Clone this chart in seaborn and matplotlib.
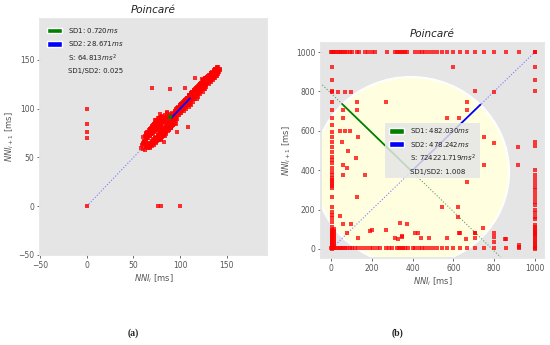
import matplotlib
matplotlib.use("Agg")
import numpy as np
import pandas as pd
import matplotlib.pyplot as plt
import seaborn as sns
from matplotlib.patches import Ellipse, Patch

nni_a = [
    58, 60, 59, 63, 61, 65, 62, 66, 64, 68, 65, 70, 67, 72, 69, 74, 70, 76, 72, 78,
    74, 80, 75, 79, 73, 77, 71, 75, 69, 74, 68, 72, 66, 70, 64, 68, 62, 66, 60, 64,
    61, 67, 63, 69, 65, 71, 67, 73, 70, 76, 73, 79, 76, 82, 78, 85, 80, 86, 82, 88,
    84, 90, 85, 91, 86, 92, 88, 94, 89, 93, 87, 91, 84, 89, 81, 87, 79, 84, 77, 82,
    75, 81, 73, 79, 71, 77, 70, 75, 68, 74, 66, 72, 65, 70, 63, 68, 61, 66, 60, 65,
    62, 67, 64, 70, 66, 73, 69, 76, 72, 79, 75, 82, 78, 84, 80, 87, 83, 89, 85, 90,
    87, 92, 89, 95, 91, 96, 92, 88, 85, 81, 78, 74, 71, 68, 72, 76, 80, 83, 86, 82,
    79, 76, 73, 70, 74, 78, 81, 84, 88, 85, 82, 80, 77, 75, 78, 80, 83, 86, 89, 92,
    90, 87, 84, 86, 88, 91, 93, 95, 97, 76, 84, 72, 80, 68, 77, 83, 74, 86, 78, 70,
    81, 73, 88, 79, 71, 82, 75, 67, 78, 85, 76, 90, 80, 72, 84, 94, 85, 79, 92, 83,
    66, 76, 68, 79, 70, 82, 72, 84, 75, 87, 77, 90, 80, 92, 83, 73, 85, 74, 88, 78,
    69, 80, 71, 83, 74, 65, 76, 68, 79, 90, 81, 93, 84, 75, 86, 96, 88, 79, 91, 82,
    72, 63, 74, 85, 77, 68, 60, 71, 64, 75, 86, 97, 89, 80, 70, 62, 72, 81, 71, 78,
    95, 98, 96, 100, 98, 102, 100, 104, 101, 105, 103, 107, 104, 108, 106, 110, 107, 111, 109, 113,
    110, 114, 112, 116, 113, 117, 115, 119, 116, 120, 118, 122, 119, 123, 121, 125, 122, 126, 124, 128,
    125, 129, 127, 131, 128, 132, 130, 134, 131, 135, 133, 137, 134, 138, 136, 140, 137, 141, 139, 143,
    140, 142, 138, 141, 136, 139, 134, 137, 132, 135, 129, 133, 127, 131, 125, 128, 122, 126, 120, 124,
    117, 121, 115, 119, 112, 116, 110, 114, 107, 111, 105, 109, 102, 106, 100, 104, 98, 101, 96, 99,
    94, 97, 99, 97, 101, 103, 101, 105, 107, 105, 109, 111, 109, 113, 115, 113, 117, 119, 117, 121,
    123, 121, 125, 127, 125, 129, 131, 129, 133, 135, 133, 137, 139, 137, 141, 143, 141, 138, 140, 136,
    138, 134, 136, 132, 134, 130, 132, 128, 130, 126, 128, 124, 126, 122, 124, 120, 122, 118, 120, 116,
    118, 114, 116, 112, 114, 110, 112, 108, 110, 106, 108, 104, 106, 102, 104, 100, 102, 98, 100, 96,
    98, 94, 90, 86, 82, 78, 74, 70, 66, 62, 58,
]
out_a_x = [0, 0, 0, 0, 0, 76, 79, 100, 70, 89, 105, 116, 123, 108, 96, 112, 118, 127]
out_a_y = [0, 100, 84, 76, 70, 0, 0, 0, 121, 120, 121, 131, 130, 81, 84, 104, 110, 120]

mean_a, sd1_a, sd2_a = 90.5, 0.720, 28.671
s_a, ratio_a = 64.813, 0.025

# --- (b) points of the right plot ---
top_x = [0, 8, 16, 25, 33, 41, 50, 60, 70, 80, 90, 103, 127, 137, 167, 183, 199, 216, 273,
         314, 324, 333, 343, 353, 364, 371, 412, 429, 444, 462, 480, 500, 518, 545, 571, 600,
         632, 667, 706, 750, 800, 857, 923, 1000]
right_y = [1000, 923, 857, 800, 545, 522, 400, 375, 353, 333, 316, 300, 279, 261, 240, 222,
           200, 182, 160, 150, 120, 110, 100, 92, 86, 80, 75, 70, 60, 50, 40, 30, 20, 10, 0]
left_y = [1000, 923, 857, 800, 746, 706, 665, 629, 594, 569, 543, 518, 492, 467, 452, 437,
          411, 391, 376, 360, 350, 340, 330, 320, 310, 264, 213, 188, 173, 157, 137, 112, 96,
          90, 84, 78, 72, 66, 60, 54, 48, 42, 36, 30, 24, 18, 12, 6, 0]
left2_y = [100, 90, 80, 70, 60, 50, 40, 30, 20, 10]
bottom_x = [0, 8, 16, 25, 33, 41, 50, 60, 70, 80, 90, 103, 115, 130, 150, 170, 190, 207, 225,
            240, 270, 285, 300, 322, 333, 343, 353, 364, 375, 400, 414, 429, 444, 462, 479,
            500, 520, 545, 571, 600, 632, 667, 706, 750, 800, 857, 923, 1000]
inner_x = [5, 34, 69, 98, 126, 126, 270, 60, 60, 44, 69, 93, 134, 52, 82, 123, 60, 80, 57,
           167, 126, 570, 629, 665, 665, 600, 706, 799, 750, 799, 918, 750, 918, 665, 543,
           624, 624, 338, 412, 425, 348, 440, 478, 570, 632, 706, 706, 747, 200, 270, 313,
           44, 60, 97, 80, 134, 191, 374, 346, 330, 629, 662, 706, 853, 800, 800, 800, 857,
           923, 923]
inner_y = [797, 797, 797, 797, 748, 706, 748, 706, 664, 600, 600, 600, 570, 545, 497, 460,
           426, 410, 376, 376, 265, 663, 663, 748, 706, 925, 800, 797, 570, 540, 520, 426,
           426, 342, 215, 215, 164, 130, 83, 83, 62, 58, 58, 58, 80, 80, 58, 105, 96, 96, 58,
           168, 127, 127, 80, 57, 93, 127, 66, 49, 83, 49, 83, 49, 81, 61, 36, 51, 20, 12]

mean_b, sd1_b, sd2_b = 395.0, 482.030, 478.242
s_b, ratio_b = 724221.719, 1.008

# --- style ---
sns.set_theme(style="dark", rc={
    "axes.facecolor": "#E5E5E5",
    "figure.facecolor": "white",
    "axes.edgecolor": "#E5E5E5",
    "axes.grid": False,
    "xtick.bottom": True, "ytick.left": True,
    "xtick.major.size": 2.5, "ytick.major.size": 2.5,
    "xtick.major.width": 0.6, "ytick.major.width": 0.6,
    "xtick.color": "#555555", "ytick.color": "#555555",
    "axes.labelcolor": "#555555", "text.color": "#222222",
})
plt.rcParams['font.family'] = ['DejaVu Sans']

df_a = pd.DataFrame({"x": nni_a[:-1] + out_a_x, "y": nni_a[1:] + out_a_y})
bx = top_x + [1000] * len(right_y) + [3] * len(left_y) + [12] * len(left2_y) + bottom_x + inner_x
by = [1000] * len(top_x) + right_y + left_y + left2_y + [5] * len(bottom_x) + inner_y
df_b = pd.DataFrame({"x": bx, "y": by})

fig = plt.figure(figsize=(5.5, 3.45), dpi=100)
ax_a = fig.add_axes([40 / 550, 90 / 345, 227 / 550, 236 / 345])
ax_b = fig.add_axes([321 / 550, 87 / 345, 223 / 550, 215 / 345])


def poincare(ax, df, mean, sd1, sd2, s, ratio, lo, hi, legend_loc, arrow_head, dot_size, dot_alpha):
    a = np.pi / 4
    # ellipse (thin dark rim + light yellow fill)
    ax.add_patch(Ellipse((mean, mean), sd1 * 2, sd2 * 2, angle=-45, fc="#b3ad92", zorder=1))
    ax.add_patch(Ellipse((mean, mean), sd1 * 2 - (hi - lo) * 0.007, sd2 * 2 - (hi - lo) * 0.007,
                         angle=-45, fc="lightyellow", zorder=1))
    sns.scatterplot(data=df, x="x", y="y", ax=ax, color="red", s=dot_size, marker="s",
                    linewidth=0, alpha=dot_alpha, zorder=3)
    # identity line and SD1 direction line
    ax.plot([df.x.min(), df.x.max()], [df.x.min(), df.x.max()], ls=":", color="#7a7aff",
            lw=0.8, zorder=2)
    k = 2.2 * sd1
    ax.plot([mean - k * np.sin(a), mean + k * np.sin(a)], [mean + k * np.cos(a), mean - k * np.cos(a)],
            ls=":", color="#5f9f5f", lw=0.8, zorder=2)
    # SD1 / SD2 vectors
    ax.plot([mean, mean - sd1 * np.sin(a)], [mean, mean + sd1 * np.cos(a)], color="green", lw=1.3, zorder=4)
    ax.plot([mean, mean + sd2 * np.cos(a)], [mean, mean + sd2 * np.sin(a)], color="blue", lw=1.3, zorder=4)
    if arrow_head:
        ax.arrow(mean, mean, -sd1 * np.sin(a), sd1 * np.cos(a), color="green",
                 head_width=4, head_length=3, zorder=4)
    handles = [Patch(fc="green", label=f"SD1: {sd1:.3f}$ms$"),
               Patch(fc="blue", label=f"SD2: {sd2:.3f}$ms$"),
               Patch(alpha=0, label=f"S: {s:.3f}$ms^2$"),
               Patch(alpha=0, label=f"SD1/SD2: {ratio:.3f}")]
    ax.legend(handles=handles, loc=legend_loc, fontsize=5.0, frameon=True,
              facecolor="#E5E5E5", edgecolor="none", framealpha=0.85,
              handlelength=2.2, handleheight=0.9, borderpad=0.5, labelspacing=0.6)
    ax.set_title("Poincaré", fontsize=7.5, style="italic", pad=4)
    ax.set_xlabel("$NNI_i$ [ms]", fontsize=6, labelpad=2)
    ax.set_ylabel("$NNI_{i+1}$ [ms]", fontsize=6, labelpad=2)
    ax.tick_params(labelsize=5.5, pad=1.5)


poincare(ax_a, df_a, mean_a, sd1_a, sd2_a, s_a, ratio_a, -50, 193, "upper left", True, 5, 0.8)
ax_a.set_xlim(-50, 193)
ax_a.set_ylim(-50, 192)
ax_a.set_xticks([-50, 0, 50, 100, 150])
ax_a.set_yticks([-50, 0, 50, 100, 150])

poincare(ax_b, df_b, mean_b, sd1_b, sd2_b, s_b, ratio_b, -50, 1045, "center", False, 5, 0.75)
ax_b.set_xlim(-50, 1045)
ax_b.set_ylim(-46, 1046)
ax_b.set_xticks(range(0, 1001, 200))
ax_b.set_yticks(range(0, 1001, 200))

fig.text(133 / 550, 1 - 333 / 345, "(a)", ha="center", va="center", fontsize=7,
         fontweight="bold", family="Liberation Serif")
fig.text(397 / 550, 1 - 333 / 345, "(b)", ha="center", va="center", fontsize=7,
         fontweight="bold", family="Liberation Serif")

fig.savefig("out.png", dpi=100)
